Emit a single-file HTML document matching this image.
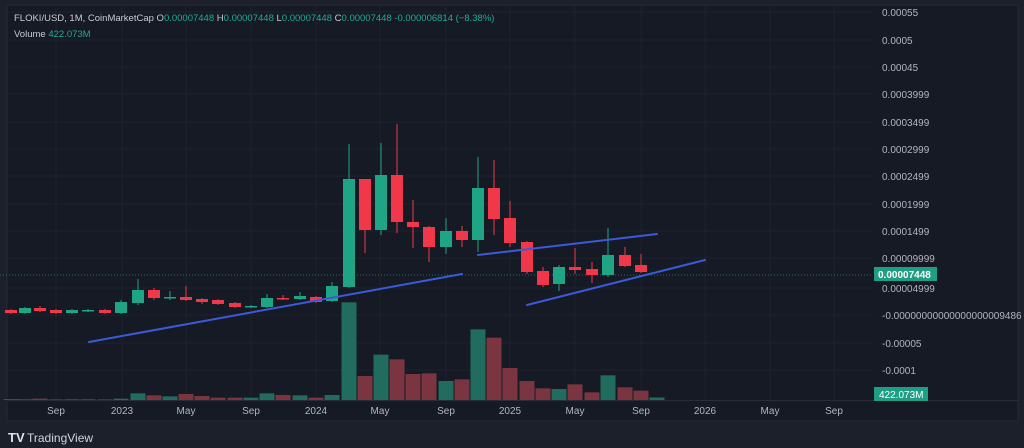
<!DOCTYPE html>
<html><head><meta charset="utf-8"><style>
html,body{margin:0;padding:0;background:#1c202b;width:1024px;height:448px;overflow:hidden}
svg{display:block}
text{font-family:"Liberation Sans",sans-serif}
</style></head><body>
<svg id="s" width="1024" height="448" viewBox="0 0 1024 448" xmlns="http://www.w3.org/2000/svg">
<rect x="0" y="0" width="1024" height="448" fill="#1c202b"/>
<rect x="7" y="5" width="1011" height="416" fill="#161a25" stroke="#262a36"/>
<g id="grid" stroke="#1d222e" stroke-width="1"></g>
<line x1="7" y1="400.5" x2="1018" y2="400.5" stroke="#2a2e39"/>
<line x1="0" y1="275" x2="872" y2="275" stroke="#2f6b63" stroke-dasharray="1,2"/>
<g id="vol"></g>
<g id="c"></g>
<g stroke="#3a5ad9" stroke-width="2" stroke-linecap="round">
<line x1="89" y1="342" x2="462" y2="274"/>
<line x1="478" y1="255" x2="657" y2="234"/>
<line x1="527" y1="305" x2="705" y2="260"/>
</g>
<g id="yl" fill="#b2b5be" font-size="10"></g>
<g id="xl" fill="#b2b5be" font-size="10" text-anchor="middle"></g>
<rect x="874" y="267" width="63" height="14" fill="#1e9e84"/>
<text x="878" y="278" fill="#fff" font-size="10" font-weight="bold">0.00007448</text>
<rect x="874" y="387" width="54" height="14" fill="#1e9e84"/>
<text x="879" y="398" fill="#fff" font-size="10">422.073M</text>
<text x="14" y="21" font-size="9.5" fill="#c8cad0">FLOKI/USD, 1M, CoinMarketCap <tspan>O</tspan><tspan fill="#22ab94">0.00007448</tspan> <tspan>H</tspan><tspan fill="#22ab94">0.00007448</tspan> <tspan>L</tspan><tspan fill="#22ab94">0.00007448</tspan> <tspan>C</tspan><tspan fill="#22ab94">0.00007448 -0.000006814 (−8.38%)</tspan></text>
<text x="14" y="37" font-size="9.5" fill="#c8cad0">Volume <tspan fill="#22ab94">422.073M</tspan></text>
<text x="8" y="442" font-size="13" fill="#e0e3eb" font-weight="bold">TV</text>
<text x="27" y="442" font-size="12" fill="#d1d4dc">TradingView</text>
</svg>
<script>
const NS="http://www.w3.org/2000/svg";
function el(p,t,a,txt){const e=document.createElementNS(NS,t);for(const k in a)e.setAttribute(k,a[k]);if(txt)e.textContent=txt;document.getElementById(p).appendChild(e);}
const ylab=[[12,"0.00055"],[40,"0.0005"],[67,"0.00045"],[94,"0.0003999"],[122,"0.0003499"],[149,"0.0002999"],[176,"0.0002499"],[204,"0.0001999"],[231,"0.0001499"],[258,"0.00009999"],[288,"0.00004999"],[315,"-0.00000000000000000009486"],[343,"-0.00005"],[370,"-0.0001"]];
ylab.forEach(([y,t])=>{el("yl","text",{x:882,y:y+4},t);el("grid","line",{x1:7,y1:y,x2:872,y2:y});});
const xl=[[56,"Sep"],[122,"2023"],[186,"May"],[251,"Sep"],[316,"2024"],[380,"May"],[446,"Sep"],[510,"2025"],[575,"May"],[641,"Sep"],[705,"2026"],[770,"May"],[834,"Sep"]];
xl.forEach(([x,t])=>{el("xl","text",{x:x,y:414},t);el("grid","line",{x1:x,y1:5,x2:x,y2:400});});
const C=[[11,310,313,309,314,0],[25,313,308,307,314,1],[40,308,311,306,312,0],[56,310,313,309,314,0],[72,313,310,309,314,1],[88,311,310,309,312,1],[105,310,313,309,314,0],[121,313,302,300,314,1],[138,303,290,279,305,1],[154,290,298,288,300,0],[170,298,297,291,300,1],[186,297,300,286,301,0],[202,299,302,298,304,0],[218,300,304,299,305,0],[235,303,307,302,308,0],[251,307,306,305,308,1],[267,307,298,294,308,1],[283,298,299,295,300,0],[300,299,296,292,300,1],[316,297,302,296,303,0],[332,301,286,282,302,1],[349,287,179,144,288,1],[365,179,230,179,253,0],[381,230,175,143,235,1],[397,175,222,124,233,0],[413,222,227,200,248,0],[429,227,247,226,262,0],[446,247,231,218,254,1],[462,231,240,226,247,0],[478,240,188,157,252,1],[494,188,219,160,235,0],[510,218,243,201,247,0],[527,242,272,241,274,0],[543,271,285,267,287,0],[559,284,267,265,291,1],[575,267,270,248,274,0],[592,269,275,262,283,0],[608,275,255,228,277,1],[625,255,266,247,267,0],[641,265,272,254,273,0]];
const V=[837,838,836,838,838,838,838,836,820,826,829,822,828,833,833,833,820,825,826,833,825,547,768,704,718,762,760,783,778,628,653,744,783,805,807,793,817,766,802,812];
C.forEach((c,i)=>{const [x,o,cl,h,l,u]=c;const col=u?"#1fa486":"#f0384a";
el("c","line",{x1:x,y1:h,x2:x,y2:l,stroke:col,"stroke-width":1});
const t=Math.min(o,cl),b=Math.max(o,cl);el("c","rect",{x:x-6,y:t,width:12,height:Math.max(1.5,b-t),fill:col});
const vt=V[i]/3+120;el("vol","rect",{x:x-7.5,y:vt,width:15,height:400-vt,fill:u?"#226b5f":"#7a3540"});});
el("vol","rect",{x:649.5,y:397.5,width:15,height:2.5,fill:"#226b5f"});
</script>
</body></html>
